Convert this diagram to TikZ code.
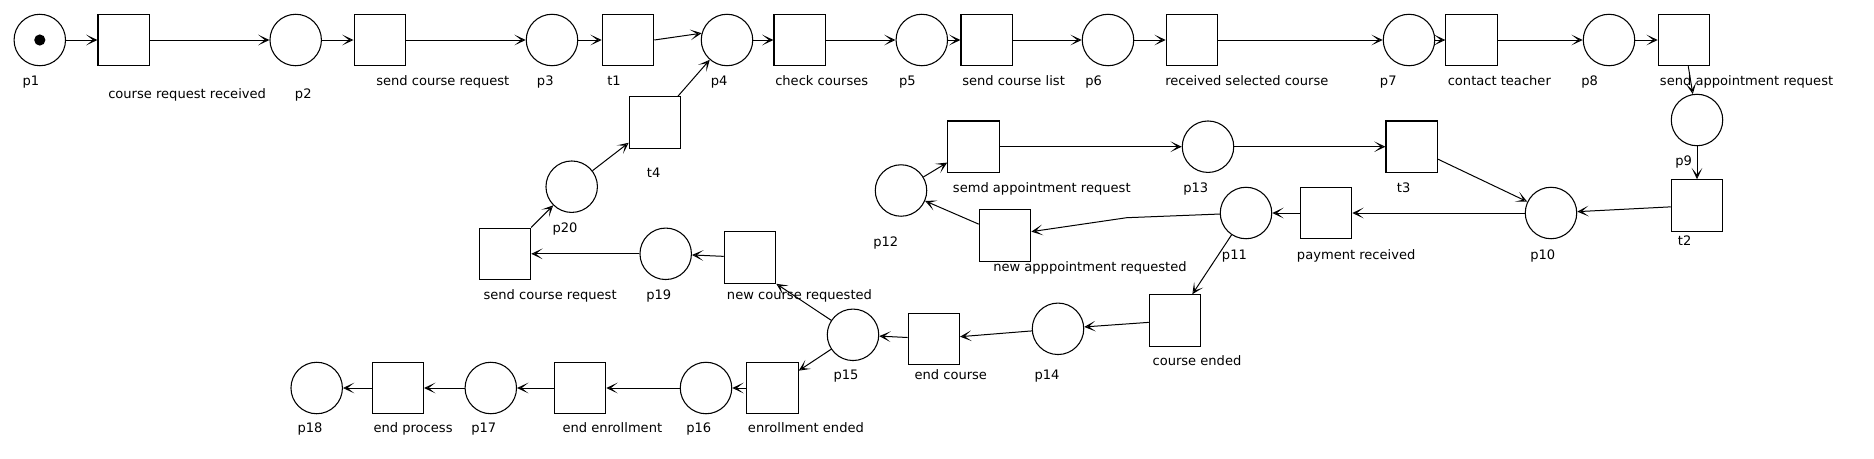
\documentclass[tikz,border=0pt]{standalone}
\usepackage{fontspec}
\setmainfont{DejaVu Sans}
\usetikzlibrary{arrows.meta}
\begin{document}
\begin{tikzpicture}[x=0.75pt,y=-0.75pt,
  place/.style={circle,draw,line width=0.8pt,minimum size=38.6pt,inner sep=0pt},
  trans/.style={rectangle,draw,line width=0.8pt,minimum size=38.6pt,inner sep=0pt},
  lbl/.style={anchor=west,inner sep=0pt,font=\fontsize{9.8pt}{12pt}\selectfont,text height=0.76em,text depth=0.24em},
  arc/.style={draw,line width=0.75pt,-{Stealth[open,length=8.5pt,width=8pt,inset=5pt,line width=0.7pt]}}]
\useasboundingbox (0,0) rectangle (1874,458);
\fill[white] (0,0) rectangle (1874,458);
% top row
\node[place] (pl1) at (39.8,40) {};
\fill (pl1.center) circle[radius=4.2pt];
\node[trans] (tcrr) at (123.7,40) {};
\node[place] (pl2) at (295.7,40) {};
\node[trans] (tscr) at (379.8,40) {};
\node[place] (pl3) at (552,40) {};
\node[trans] (tt1) at (628,40) {};
\node[place] (pl4) at (727,40) {};
\node[trans] (tcc) at (799.7,40) {};
\node[place] (pl5) at (921.8,40) {};
\node[trans] (tscl) at (986.7,40) {};
\node[place] (pl6) at (1108,40) {};
\node[trans] (trsc) at (1192,40) {};
\node[place] (pl7) at (1409,40) {};
\node[trans] (tct) at (1471.6,40) {};
\node[place] (pl8) at (1609,40) {};
\node[trans] (tsar) at (1684,40) {};
% right column
\node[place] (pl9) at (1697,120) {};
\node[trans] (tt2) at (1697,205.5) {};
% middle
\node[trans] (tt4) at (655,122.5) {};
\node[place] (pl20) at (571.7,186.7) {};
\node[trans] (tscr2) at (505,253.8) {};
\node[place] (pl19) at (665.7,253.8) {};
\node[trans] (tncr) at (750,257.5) {};
\node[place] (pl12) at (901,190.5) {};
\node[trans] (tsemd) at (973.5,146.7) {};
\node[place] (pl13) at (1208,146.7) {};
\node[trans] (tt3) at (1411.7,146.7) {};
\node[trans] (tnar) at (1005,235.5) {};
\node[place] (pl11) at (1246,213) {};
\node[trans] (tpr) at (1326,213) {};
\node[place] (pl10) at (1551,213) {};
\node[trans] (tce) at (1175,320.5) {};
\node[place] (pl14) at (1058,328.8) {};
\node[trans] (tec) at (933.8,338.8) {};
\node[place] (pl15) at (853,334.8) {};
% bottom row
\node[trans] (tee) at (772.5,388) {};
\node[place] (pl16) at (706,388) {};
\node[trans] (tenr) at (580,388) {};
\node[place] (pl17) at (490.8,388) {};
\node[trans] (tep) at (397.8,388) {};
\node[place] (pl18) at (316.7,388) {};
\coordinate (bend) at (1126.7,217.7);
% labels
\node[lbl] (lp1) at (22.4,81.7) {p1};
\node[lbl] (lcrr) at (108,95) {course request received};
\node[lbl] (lp2) at (294.7,95) {p2};
\node[lbl] (lscr) at (376,82) {send course request};
\node[lbl] (lp3) at (536.7,82) {p3};
\node[lbl] (lt1) at (607,82) {t1};
\node[lbl] (lp4) at (710.6,82) {p4};
\node[lbl] (lcc) at (775,82) {check courses};
\node[lbl] (lp5) at (898.8,82) {p5};
\node[lbl] (lscl) at (962,82) {send course list};
\node[lbl] (lp6) at (1085,82) {p6};
\node[lbl] (lrsc) at (1165,82) {received selected course};
\node[lbl] (lp7) at (1379.7,82) {p7};
\node[lbl] (lct) at (1447.5,82) {contact teacher};
\node[lbl] (lp8) at (1581,82) {p8};
\node[lbl] (lsar) at (1659.7,82) {send appointment request};
\node[lbl] (lt4) at (646.7,174) {t4};
\node[lbl] (lp20) at (552.3,229) {p20};
\node[lbl] (lscr2) at (483.3,295.7) {send course request};
\node[lbl] (lp19) at (646,295.7) {p19};
\node[lbl] (lncr) at (726.7,295.7) {new course requested};
\node[lbl] (lp12) at (873,242.7) {p12};
\node[lbl] (lsemd) at (952.7,189) {semd appointment request};
\node[lbl] (lp13) at (1183,189) {p13};
\node[lbl] (lnar) at (993,268.3) {new apppointment requested};
\node[lbl] (lp11) at (1221.7,255.7) {p11};
\node[lbl] (lpr) at (1296.7,255.7) {payment received};
\node[lbl] (lt3) at (1396.7,189) {t3};
\node[lbl] (lp10) at (1530,255.7) {p10};
\node[lbl] (lt2) at (1677.7,241.7) {t2};
\node[lbl] (lp9) at (1675,162.3) {p9};
\node[lbl] (lp18) at (297.3,429.3) {p18};
\node[lbl] (lep) at (373.3,429.3) {end process};
\node[lbl] (lp17) at (471,429.3) {p17};
\node[lbl] (lenr) at (562.3,429.3) {end enrollment};
\node[lbl] (lp16) at (686,429.3) {p16};
\node[lbl] (lee) at (747.7,429.3) {enrollment ended};
\node[lbl] (lp15) at (833.3,375.7) {p15};
\node[lbl] (lec) at (914.3,375.7) {end course};
\node[lbl] (lp14) at (1034.3,375.7) {p14};
\node[lbl] (lce) at (1152.3,362.3) {course ended};
% arcs
\draw[arc] (pl1) -- (tcrr);
\draw[arc] (tcrr) -- (pl2);
\draw[arc] (pl2) -- (tscr);
\draw[arc] (tscr) -- (pl3);
\draw[arc] (pl3) -- (tt1);
\draw[arc] (tt1.east) -- (pl4.165);
\draw[arc] (pl4) -- (tcc);
\draw[arc] (tcc) -- (pl5);
\draw[arc] (pl5) -- (tscl);
\draw[arc] (tscl) -- (pl6);
\draw[arc] (pl6) -- (trsc);
\draw[arc] (trsc) -- (pl7);
\draw[arc] (pl7) -- (tct);
\draw[arc] (tct) -- (pl8);
\draw[arc] (pl8) -- (tsar);
\draw[arc] (tsar) -- (pl9);
\draw[arc] (pl9) -- (tt2);
\draw[arc] (tt2) -- (pl10);
\draw[arc] (tt3) -- (pl10);
\draw[arc] (pl13) -- (tt3);
\draw[arc] (tsemd) -- (pl13);
\draw[arc] (pl12) -- (tsemd);
\draw[arc] (tnar) -- (pl12);
\draw[arc] (pl11) -- (bend) -- (tnar);
\draw[arc] (tpr) -- (pl11);
\draw[arc] (pl10) -- (tpr);
\draw[arc] (pl11) -- (tce);
\draw[arc] (tce) -- (pl14);
\draw[arc] (pl14) -- (tec);
\draw[arc] (tec) -- (pl15);
\draw[arc] (pl15) -- (tncr.south east);
\draw[arc] (pl15) -- (tee);
\draw[arc] (tee) -- (pl16);
\draw[arc] (pl16) -- (tenr);
\draw[arc] (tenr) -- (pl17);
\draw[arc] (pl17) -- (tep);
\draw[arc] (tep) -- (pl18);
\draw[arc] (tncr) -- (pl19);
\draw[arc] (pl19) -- (tscr2);
\draw[arc] (tscr2) -- (pl20);
\draw[arc] (pl20) -- (tt4);
\draw[arc] (tt4) -- (pl4);
\end{tikzpicture}
\end{document}
